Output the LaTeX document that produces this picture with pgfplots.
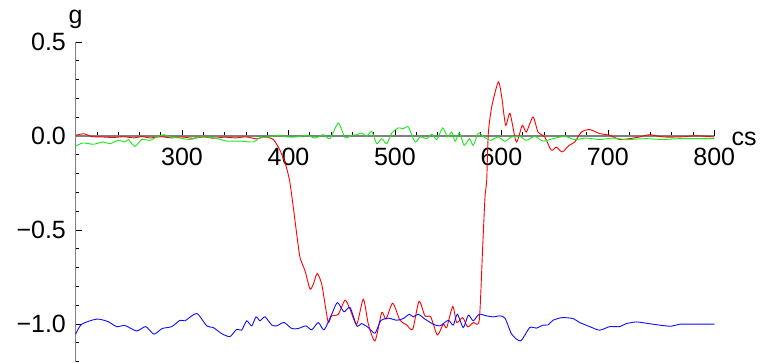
\documentclass[border=0pt]{standalone}
\usepackage{fontspec}
\setmainfont{Liberation Sans}
\usepackage{pgfplots}
\pgfplotsset{compat=1.18}
\definecolor{mred}{rgb}{1,0,0}
\definecolor{mgreen}{rgb}{0.1,0.92,0.1}
\definecolor{mblue}{rgb}{0.05,0.05,1}
\begin{document}
\begin{tikzpicture}
\useasboundingbox (-75.6bp,-2.4bp) rectangle (697.4bp,361.6bp);
\begin{axis}[
  at={(0,0)}, anchor=south west,
  scale only axis, width=638.7bp, height=319.6bp,
  xmin=200, xmax=800, ymin=-1.2, ymax=0.5,
  axis lines=middle,
  axis line style={draw=gray, line width=1.1bp, -},
  xtick={300,400,500,600,700,800},
  xticklabels={300,400,500,600,700,800},
  minor xtick={220,240,260,280,320,340,360,380,420,440,460,480,520,540,560,580,620,640,660,680,720,740,760,780},
  ytick={-1,-0.5,0,0.5},
  yticklabels={−1.0,−0.5,0.0,0.5},
  minor ytick={-1.2,-1.1,-0.9,-0.8,-0.7,-0.6,-0.4,-0.3,-0.2,-0.1,0.1,0.2,0.3,0.4},
  tick align=inside,
  major tick length=6bp, minor tick length=3.5bp,
  tick style={black, line width=0.6bp},
  ticklabel style={font=\fontsize{25bp}{30bp}\selectfont},
  xticklabel style={anchor=north, inner sep=0pt, yshift=-12bp},
  yticklabel style={anchor=east, inner sep=0pt, xshift=-9.5bp},
  clip=false,
]
\addplot[mred, line width=0.9bp, smooth, tension=0.4] coordinates {
(200,0.004) (208,0.012) (215,-0.003) (225,-0.005) (235,-0.008) (245,-0.004)
(255,-0.010) (262,-0.003) (270,-0.010) (280,-0.004) (290,-0.010) (300,-0.005)
(310,-0.012) (320,-0.005) (330,-0.012) (340,-0.006) (350,-0.010) (360,-0.005)
(370,-0.015) (378,-0.005) (386,-0.020) (392,-0.076) (397,-0.147) (401,-0.236)
(404.5,-0.379) (407.7,-0.521) (410.8,-0.646) (415.5,-0.717) (420.2,-0.814)
(423.3,-0.788) (427,-0.731) (431.2,-0.788) (434.3,-0.894) (437.4,-0.992)
(440.6,-0.957) (446.8,-0.948) (453.1,-0.873) (457.8,-0.921) (464.1,-1.001)
(470.3,-0.868) (475,-1.001) (481.3,-1.090) (487.6,-0.939) (491.6,-0.974)
(497.9,-0.889) (504.7,-0.980) (511,-1.005) (516.7,-1.028) (522.6,-0.879)
(528.2,-0.957) (533.6,-0.962) (539.8,-1.058) (545.4,-1.001) (548.6,-1.019)
(554.3,-0.907) (558,-0.992) (563.6,-0.966) (568.3,-1.015) (573.6,-0.992)
(579.2,-0.980) (582.4,-0.592) (584.6,-0.325) (586.2,-0.236) (587.7,0.013)
(590.9,0.155) (597.1,0.288) (600.3,0.208) (604,0.057) (608.1,0.120)
(614,-0.032) (619.6,0.057) (623.4,0.021) (629.7,0.101) (634.4,0.021)
(640.7,-0.005) (646.9,-0.076) (651.6,-0.059) (657.2,-0.085) (663.5,-0.050)
(668.9,-0.032) (675.1,0.021) (683,0.034) (692.3,0.013) (701.7,0.004)
(711.1,-0.019) (720.5,-0.014) (729.9,-0.005) (739.3,0.007) (751.8,-0.005)
(767.5,-0.005) (783.1,0.001) (800,-0.005)
};
\addplot[mgreen, line width=0.9bp, smooth, tension=0.4] coordinates {
(200,-0.053) (207.2,-0.037) (216.6,-0.044) (226,-0.032) (232.3,-0.041)
(240.1,-0.023) (246.4,-0.032) (249.5,-0.019) (255.8,-0.055) (262.1,-0.019)
(269.9,-0.023) (276.2,-0.005) (283,0.007) (288.7,-0.005) (298.1,-0.011)
(307.5,-0.019) (316.9,-0.005) (329.4,-0.009) (341.9,-0.027) (354.4,-0.027)
(366.9,-0.032) (373.2,-0.009) (382.6,-0.005) (390.4,0.004) (398.3,-0.005)
(407.7,-0.005) (417.1,0.004) (424.9,-0.011) (432.7,0.007) (439,-0.014)
(446.8,0.069) (453.1,-0.009) (459.4,0.004) (464.1,0.007) (468.8,0.016)
(473.5,-0.002) (478.2,0.025) (482.9,-0.041) (487.6,-0.014) (492.3,-0.041)
(497,0.016) (503.2,0.043) (507.9,0.039) (512.6,0.048) (518.9,-0.032)
(523.6,-0.005) (529.9,-0.014) (534.6,0.009) (539.3,-0.019) (544.9,0.043)
(549.3,-0.005) (553.4,0.021) (556.5,-0.028) (560.6,0.016) (565,-0.050)
(570,-0.014) (573.6,-0.050) (578.3,0.016) (583.6,-0.005) (589.9,-0.023)
(597.1,-0.005) (603.4,-0.028) (609.7,-0.005) (617.2,-0.002) (623.4,-0.023)
(631.3,-0.002) (639.1,-0.027) (648.5,-0.014) (659.5,-0.002) (668.9,-0.019)
(679.8,-0.011) (692.3,-0.019) (704.8,-0.011) (717.3,-0.019) (736.1,-0.014)
(751.8,-0.019) (767.5,-0.014) (800,-0.014)
};
\addplot[mblue, line width=0.9bp, smooth, tension=0.4] coordinates {
(200,-1.054) (205.7,-1.001) (219.8,-0.974) (230.4,-0.987) (238.6,-1.014)
(246.4,-1.008) (257.4,-1.037) (265.9,-1.014) (273.6,-1.054) (281.4,-1.024)
(290.3,-1.014) (298.1,-0.980) (302.8,-0.983) (313.8,-0.944) (323.2,-1.010)
(329.4,-1.019) (337.2,-1.051) (345,-1.067) (351.3,-1.028) (356,-1.033)
(360.7,-0.983) (365.4,-1.010) (369.5,-0.962) (373.2,-0.983) (377.9,-0.962)
(384.2,-1.005) (388.9,-1.010) (395.8,-0.992) (403,-1.024) (409.2,-1.024)
(416.4,-1.010) (421.8,-1.031) (428,-0.992) (433.4,-1.031) (440.6,-0.948)
(445.9,-0.886) (452.1,-0.935) (457.8,-0.912) (464.1,-1.010) (468.8,-0.998)
(475,-1.019) (481.3,-1.049) (486.6,-0.983) (493.8,-0.969) (501.6,-0.980)
(507.8,-0.971) (513.5,-0.948) (517.2,-0.962) (521.9,-0.948) (528.2,-0.974)
(536,-1.001) (542.3,-1.010) (550.1,-0.980) (554.8,-1.006) (558.6,-0.948)
(564.2,-1.019) (568.9,-0.953) (573.6,-0.983) (579,-0.948) (586.2,-0.957)
(592.4,-0.962) (598.7,-0.957) (603.4,-0.969) (609.7,-1.054) (618,-1.090)
(626.6,-1.019) (632.8,-1.022) (639.1,-1.006) (643.8,-1.005) (648.5,-0.980)
(657.2,-0.966) (667.3,-0.971) (673.5,-0.992) (683,-1.014) (692.3,-1.033)
(701.7,-1.014) (711.1,-1.014) (717.3,-0.998) (726.7,-0.989) (736.1,-0.996)
(748.7,-1.006) (759.6,-1.012) (767.5,-1.001) (783.1,-1.001) (800,-1.001)
};
\node[anchor=east, inner sep=0pt, font=\fontsize{25bp}{30bp}\selectfont] at (axis cs:200,0) [xshift=-9.5bp] {0.0};
\node[anchor=base, inner sep=0pt, font=\fontsize{25bp}{30bp}\selectfont] at (axis cs:200,0.5) [yshift=18bp] {g};
\node[anchor=base west, inner sep=0pt, font=\fontsize{25bp}{30bp}\selectfont] at (axis cs:800,0) [xshift=17bp, yshift=-9.5bp] {cs};
\end{axis}
\end{tikzpicture}
\end{document}
